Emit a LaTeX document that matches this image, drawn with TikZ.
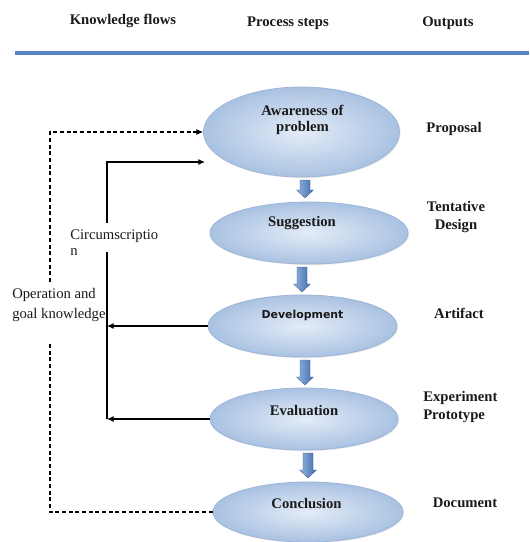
\documentclass[tikz,border=0pt]{standalone}
\usepackage{fontspec}
\setmainfont{Liberation Serif}
\newfontfamily\devfont{DejaVu Sans}
\usetikzlibrary{arrows.meta,shapes.geometric,shadows}
\definecolor{rimblue}{HTML}{9CB5D8}
\definecolor{ellin}{HTML}{E4ECF7}
\definecolor{ellout}{HTML}{A9C2E2}
\definecolor{barblue}{HTML}{5585C3}
\definecolor{arrL}{HTML}{93B4DE}
\definecolor{arrR}{HTML}{3F6DAE}
\definecolor{txt}{HTML}{1A1A1A}
\tikzset{
  stepell/.style={ellipse, inner sep=0pt, draw=rimblue, line width=0.6pt,
    inner color=ellin, outer color=ellout,
    drop shadow={opacity=0.18, shadow xshift=0.8pt, shadow yshift=-0.8pt}},
  headtxt/.style={inner sep=0pt, text=txt, font=\bfseries\fontsize{11}{13}\selectfont},
  steptxt/.style={inner sep=0pt, text=txt, align=center, font=\bfseries\fontsize{11}{12}\selectfont},
  outtxt/.style={inner sep=0pt, text=txt, align=center, font=\bfseries\fontsize{11}{14}\selectfont},
  flowtxt/.style={inner sep=0pt, text=txt, align=left, font=\fontsize{11}{15}\selectfont},
  flowline/.style={line width=0.8pt, black},
  flowdash/.style={line width=0.8pt, black, dash pattern=on 3pt off 2pt},
  tipa/.style={-{Latex[length=5pt,width=4.5pt]}},
  pics/barrow/.style={code={
    \shade[left color=arrL, right color=arrR, draw=arrR!80!black, line width=0.2pt]
      (-5,0) -- (5,0) -- (5,{#1-8}) -- (8.5,{#1-8}) -- (0,#1) -- (-8.5,{#1-8}) -- (-5,{#1-8}) -- cycle;
  }}
}
\begin{document}
\begin{tikzpicture}[x=0.75pt,y=-0.75pt]
\useasboundingbox[fill=white] (0,0) rectangle (529,542);

% header
\node[headtxt] (hk) at (123,21) {Knowledge flows};
\node[headtxt] (hp) at (288,23) {Process steps};
\node[headtxt] (ho) at (448,23) {Outputs};
\coordinate (barL) at (15,53);
\coordinate (barR) at (529,53);
\draw[barblue, line width=2.4pt] (barL) -- (barR);

% ellipses
\node[stepell, minimum width=147pt, minimum height=67.5pt] (e1) at (301.5,132) {};
\node[stepell, minimum width=148.5pt, minimum height=46.5pt] (e2) at (309,233) {};
\node[stepell, minimum width=141.75pt, minimum height=46.5pt] (e3) at (302.5,326) {};
\node[stepell, minimum width=141pt, minimum height=46.5pt] (e4) at (304,419) {};
\node[stepell, minimum width=142.5pt, minimum height=45pt] (e5) at (308,512) {};

\node[steptxt] (t1) at (302.5,120) {Awareness of\\problem};
\node[steptxt] (t2) at (302,223) {Suggestion};
\node[steptxt, font=\devfont\bfseries\fontsize{8.2}{10}\selectfont] (t3) at (302.5,315) {Development};
\node[steptxt] (t4) at (304,410) {Evaluation};
\node[steptxt] (t5) at (306.5,503) {Conclusion};

% block arrows
\pic at (305,180) {barrow=18};
\pic at (302,267) {barrow=25};
\pic at (305,360) {barrow=25};
\pic at (308,453) {barrow=25};

% outputs
\node[outtxt] (o1) at (454,129) {Proposal};
\node[outtxt] (o2) at (456,217) {Tentative\\Design};
\node[outtxt] (o3) at (459,313) {Artifact};
\node[outtxt, align=left, anchor=west] (o4) at (423,407) {Experiment\\Prototype};
\node[outtxt] (o5) at (465,503) {Document};

% knowledge flow labels
\node[flowtxt, anchor=west, font=\fontsize{11}{11.5}\selectfont] (circ) at (70,242.5) {Circumscriptio\\n};
\node[flowtxt, anchor=west] (opg) at (12,305) {Operation and\\goal knowledge};

% dashed loop
\coordinate (dA) at (50,282);
\coordinate (dB) at (50,342);
\coordinate (dC) at (50,512);
\draw[flowdash, tipa] (dA) |- (e1.west);
\draw[flowdash] (e5.west) -- (dC) -- (dB);

% solid circumscription lines
\coordinate (sA) at (107,223);
\coordinate (sB) at (205,162);
\coordinate (sC) at (107,252);
\coordinate (sD) at (107,419);
\coordinate (sE) at (107,326);
\draw[flowline, tipa] (sA) |- (sB);
\draw[flowline] (sC) -- (sD);
\draw[flowline, tipa] (e3.west) -- (sE);
\draw[flowline, tipa] (e4.west) -- (sD);
\end{tikzpicture}
\end{document}
